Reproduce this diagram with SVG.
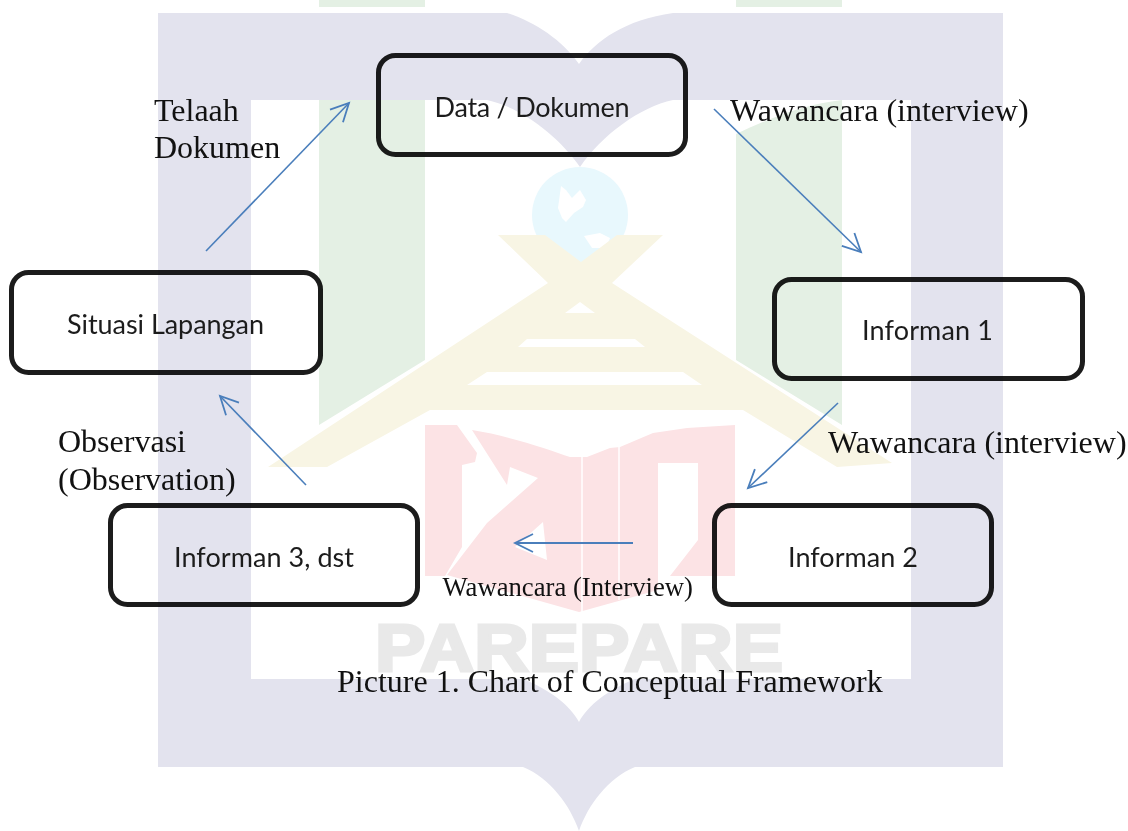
<svg xmlns="http://www.w3.org/2000/svg" width="1128" height="831" viewBox="0 0 1128 831">
<defs>
<style>
.box{fill:none;stroke:#1c1c1c;stroke-width:5;mix-blend-mode:multiply}
.lbl{font-family:"Lato","Noto Sans",sans-serif;font-size:27px;fill:#1c1c1c}
.tnr{font-family:"Liberation Serif","Times New Roman",serif;font-size:32px;fill:#111}
.conn{fill:none;stroke:#4a7ebb;stroke-width:1.6;marker-end:url(#open)}
</style>
<marker id="open" markerUnits="userSpaceOnUse" markerWidth="24" markerHeight="24" refX="20" refY="12" orient="auto" overflow="visible">
<path d="M2,3 L20,12 L2,21" fill="none" stroke="#4a7ebb" stroke-width="1.8"/>
</marker>
</defs>
<rect width="1128" height="831" fill="#fff"/>
<g id="watermark">
<path fill="#e4f0e4" d="M319,0H425V7H319Z M736,0H842V7H736Z M319,100H425V360L319,425Z M736,134C770,118 805,104 842,100V425L736,360Z"/>
<path fill="#e3e3ee" fill-rule="evenodd" d="M158,13H507C535,22 562,40 579,64C596,40 625,20 673,13H1003V767H635C608,778 588,805 579,831C570,805 550,778 523,767H158Z M251,100V679H523C550,690 570,705 579,722C588,705 608,690 635,679H911V100H673C640,107 602,135 580,167C558,135 520,107 487,100Z"/>
<circle cx="580" cy="215" r="48" fill="#e8f8fd"/>
<path fill="#fff" d="M561,186L566,190L572,198L580,190L586,200L583,207L574,213L566,222L562,218L558,208Z M584,236L600,233L610,238L606,248L592,248Z"/>
<path fill="#f8f5e4" fill-rule="evenodd" d="M498,235H545L581,262L617,235H663L612,283L892,463L837,467L743,410H430L327,467H268L548,283Z M580,302L595,313H565Z M527,339H635L645,347H518Z M487,372H683L702,385H467Z"/>
<path fill="#fce3e5" fill-rule="evenodd" d="M425,425H457L477,453L475,462L462,465V547L445,576H425Z M472,430C510,436 550,450 570,457H587L610,448L620,447L653,433L687,428L735,425V576H670L698,540V463H658V590L579,612L447,575L487,523L538,478L510,467L507,485Z M543,522L547,560L515,547Z"/>
<path stroke="#fff" stroke-width="1.5" d="M582,457V612M619,447V600"/>
<text x="375" y="670.5" font-family="Liberation Sans,sans-serif" font-weight="700" font-size="66" fill="#e9e9e9" stroke="#e9e9e9" stroke-width="3" textLength="408" lengthAdjust="spacingAndGlyphs">PAREPARE</text>
</g>
<g id="connectors">
<path class="conn" d="M206,251L349,103"/>
<path class="conn" d="M714,109L861,252"/>
<path class="conn" d="M838,403L748,488"/>
<path class="conn" d="M633,543H515" style="stroke-width:2"/>
<path class="conn" d="M306,485L220,396"/>
</g>
<g id="node-data"><rect class="box" x="378.5" y="55.5" width="307" height="99" rx="17"/><text class="lbl" x="434.5" y="116.5" textLength="195">Data / Dokumen</text></g>
<g id="node-informan1"><rect class="box" x="774.5" y="279.5" width="308" height="99" rx="17"/><text class="lbl" x="862" y="340" textLength="131">Informan 1</text></g>
<g id="node-informan2"><rect class="box" x="714.5" y="505.5" width="277" height="99" rx="17"/><text class="lbl" x="788" y="567" textLength="130">Informan 2</text></g>
<g id="node-informan3"><rect class="box" x="110.5" y="505.5" width="307" height="99" rx="17"/><text class="lbl" x="174" y="567" textLength="180">Informan 3, dst</text></g>
<g id="node-situasi"><rect class="box" x="11.5" y="272.5" width="309" height="100" rx="17"/><text class="lbl" x="67" y="334" textLength="197">Situasi Lapangan</text></g>
<g id="labels">
<text class="tnr" x="154" y="121">Telaah</text>
<text class="tnr" x="154" y="158">Dokumen</text>
<text class="tnr" x="730" y="121">Wawancara (interview)</text>
<text class="tnr" x="828" y="453">Wawancara (interview)</text>
<text class="tnr" x="58" y="452">Observasi</text>
<text class="tnr" x="58" y="490">(Observation)</text>
<text class="tnr" x="442.5" y="596" style="font-size:26.7px">Wawancara (Interview)</text>
<text class="tnr" x="337" y="692">Picture 1. Chart of Conceptual Framework</text>
</g>
</svg>
